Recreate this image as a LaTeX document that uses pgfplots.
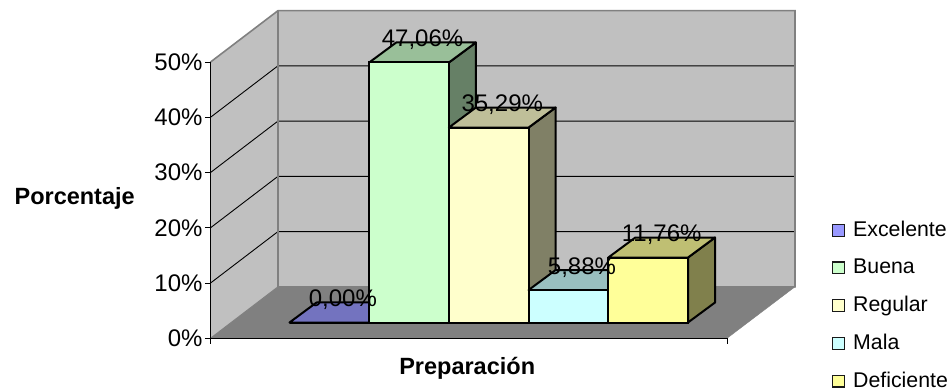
\documentclass[border=0pt]{standalone}
\usepackage{fontspec}
\setmainfont{Liberation Sans}
\usepackage{pgfplots}
\pgfplotsset{compat=1.18}
\definecolor{wall}{HTML}{C0C0C0}
\definecolor{floorgray}{HTML}{808080}
\definecolor{exc}{HTML}{9999FF}
\definecolor{buena}{HTML}{CCFFCC}
\definecolor{regular}{HTML}{FFFFCC}
\definecolor{mala}{HTML}{CCFFFF}
\definecolor{defi}{HTML}{FFFF99}
\newcommand{\fs}[1]{\fontsize{#1}{#1}\selectfont}
\begin{document}
\begin{tikzpicture}
\path[use as bounding box] (0,0) rectangle (950pt,391pt);
% Room: walls, floor, percent scale and legend
\begin{axis}[
  at={(210.5pt,52.7pt)}, anchor=south west,
  x=1pt, y=5.525pt,
  xmin=210.5, xmax=727, ymin=0, ymax=50,
  clip=false, axis on top=true,
  axis x line*=bottom, axis y line*=left,
  axis line style={black, line width=1pt, -},
  xtick={210.5,727}, xticklabels={},
  ytick={0,10,20,30,40,50},
  yticklabel={\pgfmathprintnumber{\tick}\%},
  /pgf/number format/assume math mode=true,
  tick style={black, line width=1pt},
  tick align=outside, major tick length=5.5pt,
  tick label style={font=\fs{24}},
  yticklabel style={xshift=1pt},
  xlabel={\textbf{Preparación}},
  ylabel={\textbf{Porcentaje}},
  every axis x label/.style={at={(axis description cs:0.497,-0.1075)}, anchor=center, font=\fs{23.5}},
  every axis y label/.style={at={(axis description cs:-0.263,0.505)}, anchor=center, font=\fs{23.5}},
  legend cell align=left,
  legend style={at={(axis cs:832,21.6)}, anchor=north west, draw=none, fill=none,
    font=\fs{21.3}, row sep=17pt, inner sep=0pt, outer sep=0pt,
    /tikz/every odd column/.style={column sep=6.2pt}},
  legend image code/.code={\draw[#1, draw=black!90, line width=1.4pt] (0.7pt,-6.8pt) rectangle (12.3pt,4.8pt);},
]
\addplot[fill=floorgray, draw=floorgray, forget plot] coordinates {(210.5,0) (727,0) (795,9.32) (278,9.32)} -- cycle;
\addplot[fill=wall, draw=none, forget plot] coordinates {(278,9.32) (795,9.32) (795,59.3) (278,59.3)} -- cycle;
\addplot[fill=wall, draw=none, forget plot] coordinates {(210.5,0) (278,9.32) (278,59.3) (210.5,50)} -- cycle;
\addplot[black, line width=0.9pt, forget plot] coordinates {(210.5,10) (278,19.32) (795,19.32)};
\addplot[black, line width=0.9pt, forget plot] coordinates {(210.5,20) (278,29.32) (795,29.32)};
\addplot[black, line width=0.9pt, forget plot] coordinates {(210.5,30) (278,39.32) (795,39.32)};
\addplot[black, line width=0.9pt, forget plot] coordinates {(210.5,40) (278,49.32) (795,49.32)};
\addplot[floorgray, line width=1.6pt, forget plot] coordinates {(210.5,50) (278,59.3) (795,59.3) (795,9.32) (278,9.32) (278,59.3)};
\addplot[floorgray, line width=1pt, forget plot] coordinates {(278,9.32) (210.5,0)};
\addlegendimage{fill=exc}\addlegendentry{Excelente}
\addlegendimage{fill=buena}\addlegendentry{Buena}
\addlegendimage{fill=regular}\addlegendentry{Regular}
\addlegendimage{fill=mala}\addlegendentry{Mala}
\addlegendimage{fill=defi}\addlegendentry{Deficiente}
\end{axis}
% Bars: categories at 0..4, heights in percent
\begin{axis}[
  at={(289.5pt,68.5pt)}, anchor=south west,
  x=79.7pt, y=5.525pt,
  xmin=-0.5, xmax=4.5, ymin=0, ymax=50,
  clip=false, hide axis,
]
\pgfplotsset{
  barface/.style={ybar, bar width=1, bar shift=0pt, draw=black, line width=2pt, fill=#1, forget plot},
  panel/.style={draw=black, line width=2pt, line join=round, fill=#1, forget plot},
}
% Excelente
\addplot[panel=exc!75!black] coordinates {(-0.5,0) (0.5,0) (0.839,3.62) (-0.161,3.62)} -- cycle;
\addplot[barface=exc] coordinates {(0,0)};
% Buena
\addplot[panel=buena!50!black] coordinates {(1.5,0) (1.839,3.62) (1.839,50.68) (1.5,47.06)} -- cycle;
\addplot[panel=buena!75!black] coordinates {(0.5,47.06) (1.5,47.06) (1.839,50.68) (0.839,50.68)} -- cycle;
\addplot[barface=buena] coordinates {(1,47.06)};
% Regular
\addplot[panel=regular!50!black] coordinates {(2.5,0) (2.839,3.62) (2.839,38.91) (2.5,35.29)} -- cycle;
\addplot[panel=regular!75!black] coordinates {(1.5,35.29) (2.5,35.29) (2.839,38.91) (1.839,38.91)} -- cycle;
\addplot[barface=regular] coordinates {(2,35.29)};
% Mala
\addplot[panel=mala!50!black] coordinates {(3.5,0) (3.839,3.62) (3.839,9.5) (3.5,5.88)} -- cycle;
\addplot[panel=mala!75!black] coordinates {(2.5,5.88) (3.5,5.88) (3.839,9.5) (2.839,9.5)} -- cycle;
\addplot[barface=mala] coordinates {(3,5.88)};
% Deficiente
\addplot[panel=defi!50!black] coordinates {(4.5,0) (4.839,3.62) (4.839,15.38) (4.5,11.76)} -- cycle;
\addplot[panel=defi!75!black] coordinates {(3.5,11.76) (4.5,11.76) (4.839,15.38) (3.839,15.38)} -- cycle;
\addplot[barface=defi] coordinates {(4,11.76)};
% Value labels above everything else
\addplot[draw=none, mark=none, forget plot,
  nodes near coords={\pgfmathprintnumber[fixed, fixed zerofill, precision=2, use comma, assume math mode=true]{\pgfplotspointmeta}\%},
  point meta=y,
  every node near coord/.style={anchor=center, xshift=13.5pt, yshift=22.5pt, font=\fs{24}, text=black, inner sep=0pt},
] coordinates {(0,0) (1,47.06) (2,35.29) (3,5.88) (4,11.76)};
\end{axis}
\end{tikzpicture}
\end{document}
